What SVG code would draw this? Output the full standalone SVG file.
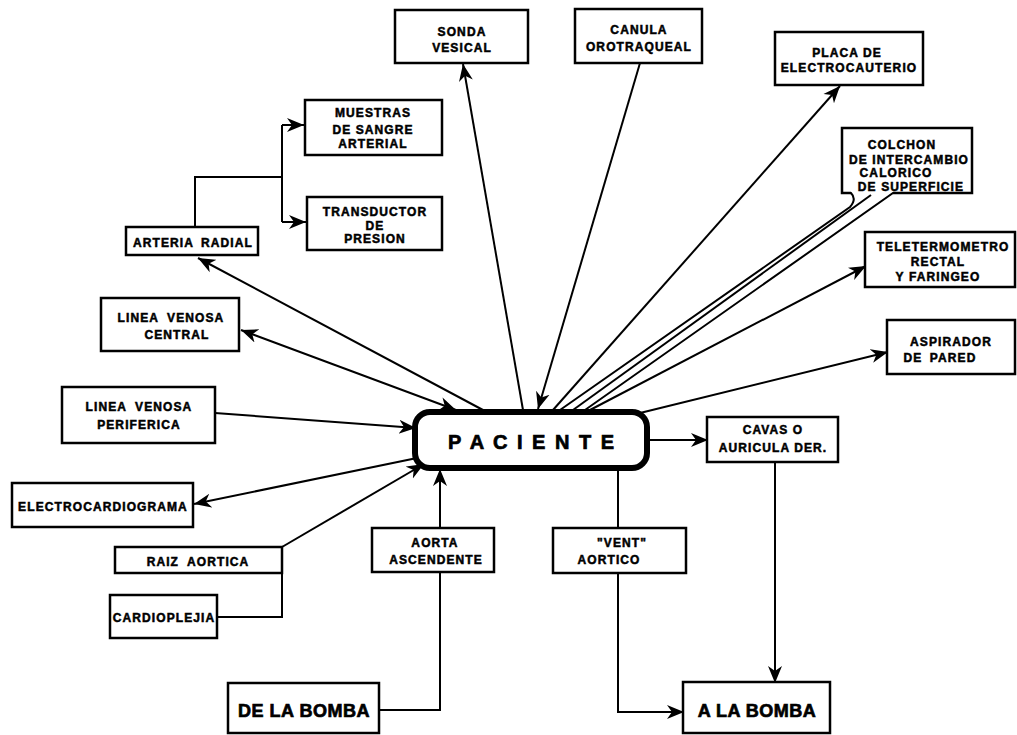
<svg xmlns="http://www.w3.org/2000/svg" width="1017" height="735" viewBox="0 0 1017 735">
  <defs>
    <style>
      .box { fill: #fff; stroke: #000; stroke-width: 2.5; }
      .frame { fill: none; stroke: #000; stroke-width: 2.5; }
      .ln { fill: none; stroke: #000; stroke-width: 2; }
      .arr { marker-end: url(#ah); }
      text { font-family: "Liberation Sans", Arial, sans-serif; font-weight: bold; fill: #000; stroke: #000; }
      .t { font-size: 12px; letter-spacing: 1.1px; text-anchor: middle; stroke-width: 0.5; }
      .big { font-size: 18px; letter-spacing: 0.5px; text-anchor: middle; stroke-width: 0.7; }
      .pac { font-size: 20px; letter-spacing: 2px; text-anchor: middle; stroke-width: 0.7; }
    </style>
    <marker id="ah" markerUnits="userSpaceOnUse" markerWidth="19" markerHeight="16" refX="17" refY="8" orient="auto-start-reverse" viewBox="0 0 19 16">
      <path d="M0,1 L17,8 L0,15 L5,8 z" fill="#000"/>
    </marker>
  </defs>
  <rect width="1017" height="735" fill="#fff"/>

  <!-- connectors -->
  <g id="connectors">
    <!-- arteria radial branches -->
    <path class="ln" d="M195,227 V177 H282"/>
    <path class="ln" d="M282,125 V222"/>
    <path class="ln arr" d="M282,125 H304"/>
    <path class="ln arr" d="M282,222 H306"/>
    <!-- spokes around the patient -->
    <path class="ln arr" d="M483,410 L198,258"/>
    <path class="ln arr" d="M456,410 L241,330" marker-start="url(#ah)"/>
    <path class="ln arr" d="M215,413 L416,428"/>
    <path class="ln arr" d="M417,458 L194,504"/>
    <path class="ln arr" d="M282,547 L424,464"/>
    <path class="ln" d="M217,617 H282 V573"/>
    <path class="ln arr" d="M523,410 L463,64"/>
    <path class="ln arr" d="M640,63 L538,409"/>
    <path class="ln arr" d="M553,410 L840,86"/>
    <!-- triple hose from the mattress -->
    <path class="ln" d="M842,193 H851 Q857,199 850,207 L560,410"/>
    <path class="ln" d="M871,195 L573,410"/>
    <path class="ln" d="M972,193 H893 L585,410"/>
    <path class="ln arr" d="M590,410 L866,266"/>
    <path class="ln arr" d="M640,413 L888,352"/>
    <path class="ln arr" d="M647,440 L708,440"/>
    <!-- pump circuit -->
    <path class="ln arr" d="M775,462 V683"/>
    <path class="ln" d="M618,468 V528"/>
    <path class="ln arr" d="M618,573 V712 H684"/>
    <path class="ln" d="M379,710 H440 V572"/>
    <path class="ln arr" d="M440,528 V469"/>
  </g>

  <g id="muestras">
    <rect class="box" x="305" y="100" width="137" height="55"/>
    <text class="t" x="373" y="117">MUESTRAS</text>
    <text class="t" x="373" y="134">DE SANGRE</text>
    <text class="t" x="373" y="148">ARTERIAL</text>
  </g>
  <g id="transductor">
    <rect class="box" x="307" y="197" width="135" height="53"/>
    <text class="t" x="375" y="216">TRANSDUCTOR</text>
    <text class="t" x="375" y="230">DE</text>
    <text class="t" x="375" y="243">PRESION</text>
  </g>
  <g id="arteria-radial">
    <rect class="box" x="126" y="227" width="132" height="28"/>
    <text class="t" x="193" y="247" word-spacing="3">ARTERIA RADIAL</text>
  </g>
  <g id="linea-venosa-central">
    <rect class="box" x="101" y="298" width="138" height="53"/>
    <text class="t" x="171" y="322" word-spacing="4">LINEA VENOSA</text>
    <text class="t" x="177" y="339">CENTRAL</text>
  </g>
  <g id="linea-venosa-periferica">
    <rect class="box" x="62" y="387" width="153" height="56"/>
    <text class="t" x="139" y="411" word-spacing="4">LINEA VENOSA</text>
    <text class="t" x="139" y="429">PERIFERICA</text>
  </g>
  <g id="electrocardiograma">
    <rect class="box" x="12" y="483" width="181" height="44"/>
    <text class="t" x="103" y="511">ELECTROCARDIOGRAMA</text>
  </g>
  <g id="raiz-aortica">
    <rect class="box" x="115" y="547" width="167" height="26"/>
    <text class="t" x="198" y="566" word-spacing="4">RAIZ AORTICA</text>
  </g>
  <g id="cardioplejia">
    <rect class="box" x="110" y="595" width="107" height="43"/>
    <text class="t" x="164" y="622">CARDIOPLEJIA</text>
  </g>
  <g id="de-la-bomba">
    <rect class="box" x="228" y="683" width="151" height="50"/>
    <text class="big" x="304" y="717">DE LA BOMBA</text>
  </g>
  <g id="aorta-ascendente">
    <rect class="box" x="372" y="528" width="122" height="44"/>
    <text class="t" x="435" y="547">AORTA</text>
    <text class="t" x="436" y="564">ASCENDENTE</text>
  </g>
  <g id="vent-aortico">
    <rect class="box" x="553" y="528" width="133" height="45"/>
    <text class="t" x="622" y="547">"VENT"</text>
    <text class="t" x="609" y="564">AORTICO</text>
  </g>
  <g id="a-la-bomba">
    <rect class="box" x="683" y="682" width="147" height="51"/>
    <text class="big" x="757" y="717">A LA BOMBA</text>
  </g>
  <g id="cavas">
    <rect class="box" x="707" y="417" width="131" height="45"/>
    <text class="t" x="773" y="434">CAVAS O</text>
    <text class="t" x="773" y="452">AURICULA DER.</text>
  </g>
  <g id="aspirador">
    <rect class="box" x="887" y="320" width="128" height="54"/>
    <text class="t" x="951" y="346">ASPIRADOR</text>
    <text class="t" x="940" y="362" word-spacing="3">DE PARED</text>
  </g>
  <g id="teletermometro">
    <rect class="box" x="865" y="232" width="150" height="55"/>
    <text class="t" x="943" y="251">TELETERMOMETRO</text>
    <text class="t" x="938" y="266">RECTAL</text>
    <text class="t" x="938" y="281">Y FARINGEO</text>
  </g>
  <g id="colchon">
    <rect x="843" y="129" width="128" height="63" fill="#fff" stroke="none"/>
    <path class="frame" d="M851,193 H842 V128 H972 V193 H893"/>
    <text class="t" x="902" y="149">COLCHON</text>
    <text class="t" x="909" y="164">DE INTERCAMBIO</text>
    <text class="t" x="896" y="177">CALORICO</text>
    <text class="t" x="911" y="191">DE SUPERFICIE</text>
  </g>
  <g id="placa">
    <rect class="box" x="775" y="32" width="148" height="53"/>
    <text class="t" x="847" y="57">PLACA DE</text>
    <text class="t" x="849" y="72">ELECTROCAUTERIO</text>
  </g>
  <g id="canula">
    <rect class="box" x="575" y="9" width="127" height="54"/>
    <text class="t" x="639" y="34">CANULA</text>
    <text class="t" x="639" y="51">OROTRAQUEAL</text>
  </g>
  <g id="sonda">
    <rect class="box" x="395" y="10" width="133" height="53"/>
    <text class="t" x="462" y="36">SONDA</text>
    <text class="t" x="462" y="52">VESICAL</text>
  </g>
  <g id="paciente">
    <rect x="415" y="412" width="232" height="56" rx="15" fill="#fff" stroke="#000" stroke-width="6"/>
    <text class="pac" x="532" y="449">P A C I E N T E</text>
  </g>
</svg>
